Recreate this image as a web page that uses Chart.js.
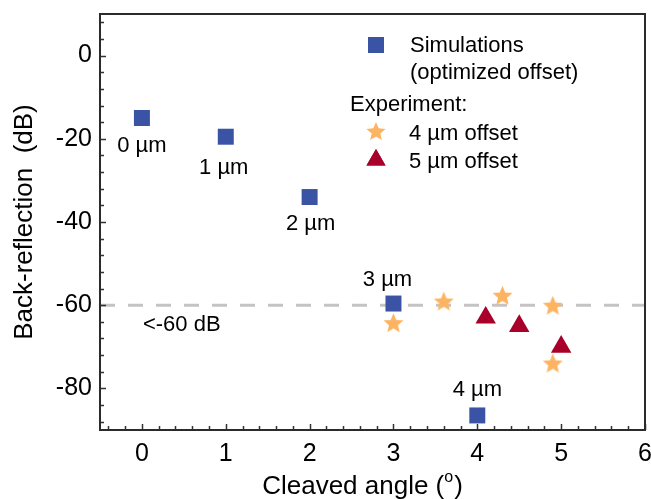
<!DOCTYPE html>
<html>
<head>
<meta charset="utf-8">
<script src="https://cdn.jsdelivr.net/npm/chart.js@4.4.0/dist/chart.umd.min.js"></script>
<style>
  html, body { margin: 0; padding: 0; background: #fff; }
  #wrap { width: 651px; height: 499px; }
</style>
</head>
<body>
<div id="wrap"><canvas id="chart" width="651" height="499"></canvas></div>
<script>
// data
const simAngles = [0, 1, 2, 3, 4];
const simBackRefl = [-15, -19.5, -34, -59.6, -86.5];
const simLabels = ['0 µm', '1 µm', '2 µm', '3 µm', '4 µm'];

const exp4Angles = [3.0, 3.6, 4.3, 4.9, 4.9];
const exp4BackRefl = [-64.2, -59, -57.6, -60, -73.9];

const exp5Angles = [4.1, 4.5, 5.0];
const exp5BackRefl = [-63, -65, -70];

const thresholdDb = -60;
const thresholdLabel = '<-60 dB';

const xTicks = [0, 1, 2, 3, 4, 5, 6];
const yTicks = [-80, -60, -40, -20, 0];

const BLUE = '#3a53a4';
const ORANGE = '#fdb462';
const RED = '#a8002a';
const FONT = '"Liberation Sans", Arial, sans-serif';

// filled 5-point star, chart.js has none
function makeStar(r, color) {
    const c = document.createElement('canvas');
    c.width = c.height = Math.ceil(r * 2 + 2);
    const g = c.getContext('2d');
    const cx = c.width / 2, cy = c.height / 2;
    g.beginPath();
    for (let i = 0; i < 10; i++) {
        const rad = i % 2 === 0 ? r : r * 0.45;
        const a = -Math.PI / 2 + i * Math.PI / 5;
        g.lineTo(cx + rad * Math.cos(a), cy + 1 + rad * Math.sin(a));
    }
    g.closePath();
    g.fillStyle = color;
    g.fill();
    return c;
}
const starImg = makeStar(10.5, ORANGE);
const starLegend = makeStar(10, ORANGE);

const toPts = (xs, ys) => xs.map((x, i) => ({ x: x, y: ys[i] }));

function txt(ctx, s, x, y, size, align) {
    ctx.font = size + 'px ' + FONT;
    ctx.textAlign = align || 'left';
    ctx.textBaseline = 'alphabetic';
    ctx.fillStyle = '#000';
    ctx.fillText(s, x, y);
}

// no auto padding, plot box is fixed
function noPad(s) {
    s.paddingLeft = s.paddingRight = s.paddingTop = s.paddingBottom = 0;
}

const decorPlugin = {
    id: 'decor',
    afterDatasetsDraw(chart) {
        const ctx = chart.ctx;
        const xs = chart.scales.x, ys = chart.scales.y;
        const a = chart.chartArea;
        ctx.save();

        // labels next to the simulation points
        const offs = [[0, 34], [-2, 37], [1, 33], [-6, -18], [0, -19]];
        simLabels.forEach((s, i) => {
            const px = xs.getPixelForValue(simAngles[i]);
            const py = ys.getPixelForValue(simBackRefl[i]);
            txt(ctx, s, px + offs[i][0], py + offs[i][1], 22, 'center');
        });
        txt(ctx, thresholdLabel, xs.getPixelForValue(0) + 1, ys.getPixelForValue(thresholdDb) + 26, 22, 'left');

        // ticks pointing inside
        ctx.strokeStyle = '#333';
        ctx.lineWidth = 1.5;
        ctx.beginPath();
        for (let v = -88; v <= 10; v += 4) {
            const y = Math.round(ys.getPixelForValue(v)) + 0.5;
            const len = v % 20 === 0 ? 6 : 4;
            ctx.moveTo(a.left, y); ctx.lineTo(a.left + len, y);
        }
        for (let k = -2; k <= 30; k++) {
            const v = k / 5;
            const x = Math.round(xs.getPixelForValue(v)) + 0.5;
            const len = k % 5 === 0 ? 6 : 4;
            ctx.moveTo(x, a.bottom); ctx.lineTo(x, a.bottom - len);
        }
        ctx.stroke();

        // frame
        ctx.lineWidth = 2;
        ctx.strokeStyle = '#2b2b2b';
        ctx.strokeRect(a.left, a.top, a.right - a.left, a.bottom - a.top);

        // legend
        const H = Chart.helpers;
        ctx.fillStyle = BLUE;
        ctx.fillRect(368, 37, 16, 16);
        txt(ctx, 'Simulations', 410, 51.5, 22);
        txt(ctx, '(optimized offset)', 410, 79, 22);
        txt(ctx, 'Experiment:', 350, 110.5, 22);
        ctx.drawImage(starLegend, 376 - starLegend.width / 2, 131 - starLegend.height / 2);
        txt(ctx, '4 µm offset', 409, 140, 22);
        ctx.fillStyle = RED;
        H.drawPoint(ctx, { pointStyle: 'triangle', radius: 11, borderWidth: 0, backgroundColor: RED }, 376, 160);
        ctx.fill();
        txt(ctx, '5 µm offset', 409, 168, 22);

        // axis titles
        const cx = 362;
        ctx.font = '26px ' + FONT;
        const main = 'Cleaved angle (';
        const w1 = ctx.measureText(main).width;
        ctx.font = '16px ' + FONT;
        const w2 = ctx.measureText('o').width;
        ctx.font = '26px ' + FONT;
        const w3 = ctx.measureText(')').width;
        const x0 = cx - (w1 + w2 + w3) / 2;
        txt(ctx, main, x0, 494, 26);
        txt(ctx, 'o', x0 + w1, 482, 16);
        txt(ctx, ')', x0 + w1 + w2 + 1, 494, 26);

        ctx.translate(32, (a.top + a.bottom) / 2);
        ctx.rotate(-Math.PI / 2);
        txt(ctx, 'Back-reflection  (dB)', 0, 0, 26, 'center');
        ctx.restore();
    }
};

new Chart(document.getElementById('chart'), {
    type: 'scatter',
    data: {
        datasets: [
            {
                label: 'threshold',
                type: 'line',
                data: [{ x: -0.5, y: thresholdDb }, { x: 6, y: thresholdDb }],
                borderColor: '#c4c4c4',
                borderWidth: 3,
                borderDash: [15, 13],
                pointRadius: 0,
                order: 10
            },
            {
                label: 'Simulations (optimized offset)',
                data: toPts(simAngles, simBackRefl),
                pointStyle: 'rect',
                pointRadius: 11.3,
                backgroundColor: BLUE,
                borderWidth: 0
            },
            {
                label: '4 µm offset',
                data: toPts(exp4Angles, exp4BackRefl),
                pointStyle: starImg,
                pointRadius: 10,
                backgroundColor: ORANGE
            },
            {
                label: '5 µm offset',
                data: toPts(exp5Angles, exp5BackRefl),
                pointStyle: 'triangle',
                pointRadius: 11.8,
                backgroundColor: RED,
                borderWidth: 0
            }
        ]
    },
    options: {
        responsive: false,
        animation: false,
        devicePixelRatio: 1,
        layout: { autoPadding: false, padding: { top: 14, right: 6, left: 0, bottom: 0 } },
        plugins: { legend: { display: false }, tooltip: { enabled: false } },
        scales: {
            x: {
                type: 'linear',
                min: -0.5,
                max: 6,
                afterBuildTicks: s => { s.ticks = xTicks.map(v => ({ value: v })); },
                afterFit: s => { s.height = 69; noPad(s); },
                grid: { display: false, drawTicks: false },
                border: { display: false },
                ticks: { color: '#000', padding: 9, font: { family: FONT, size: 25 } }
            },
            y: {
                type: 'linear',
                min: -90,
                max: 10,
                afterBuildTicks: s => { s.ticks = yTicks.map(v => ({ value: v })); },
                afterFit: s => { s.width = 100; noPad(s); },
                grid: { display: false, drawTicks: false },
                border: { display: false },
                ticks: { color: '#000', padding: 8, font: { family: FONT, size: 25 } }
            }
        }
    },
    plugins: [decorPlugin]
});
</script>
</body>
</html>
